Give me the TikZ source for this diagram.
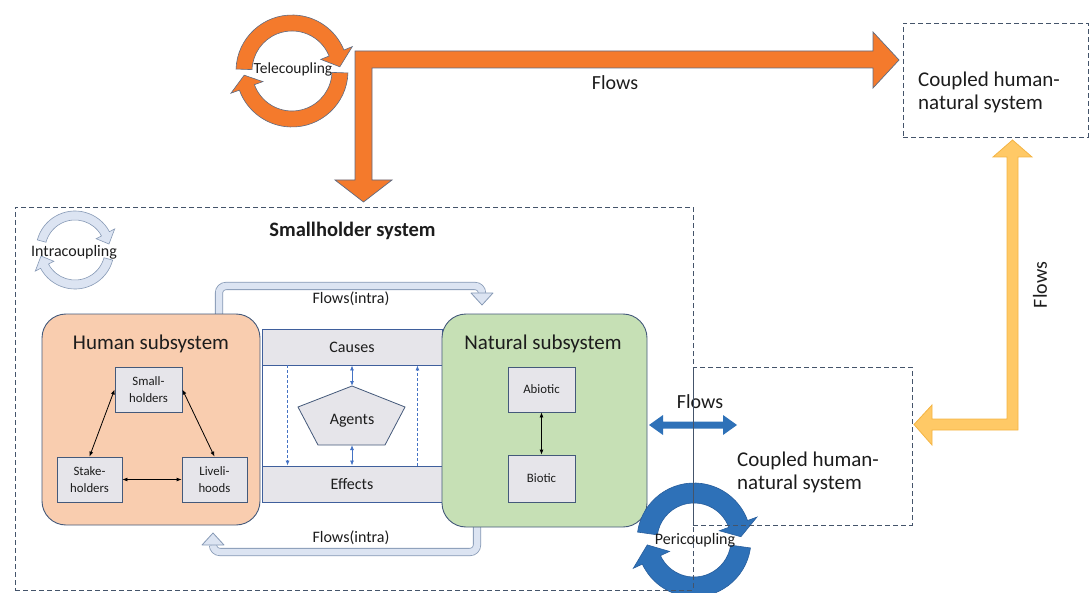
\documentclass[tikz,border=0pt]{standalone}
\usepackage{fontspec}
\setmainfont{Carlito}
\usetikzlibrary{calc,arrows.meta}
\definecolor{orangeF}{HTML}{F47A2C}
\definecolor{orangeD}{HTML}{5F6B82}
\definecolor{yellowF}{HTML}{FFC966}
\definecolor{yellowD}{HTML}{F4B443}
\definecolor{blueF}{HTML}{2E71B8}
\definecolor{blueD}{HTML}{285E9C}
\definecolor{intraF}{HTML}{DCE4F2}
\definecolor{intraD}{HTML}{8699B5}
\definecolor{humanF}{HTML}{F9CDAF}
\definecolor{natF}{HTML}{C6E0B5}
\definecolor{edgeD}{HTML}{44597A}
\definecolor{edgeB}{HTML}{3F5F9C}
\definecolor{boxG}{HTML}{E6E5EA}
\definecolor{dashC}{HTML}{44546A}
\definecolor{midBlue}{HTML}{4472C4}
\definecolor{txt}{HTML}{1C1C1C}
\newcommand{\circarr}[9]{%
 \pgfmathsetmacro\caA{-(#5)}\pgfmathsetmacro\caB{-(#6)}\pgfmathsetmacro\caT{-(#7)}%
 \pgfmathsetmacro\caMid{((#3)+(#4))/2}\pgfmathsetmacro\caHi{(#4)+(#8)}\pgfmathsetmacro\caLo{(#3)-(#8)}%
 \path[#9] (#1,#2) ++(\caA:#4) arc[start angle=\caA, end angle=\caB, radius=#4]
   -- ($(#1,#2)+(\caB:\caHi)$) -- ($(#1,#2)+(\caT:\caMid)$) -- ($(#1,#2)+(\caB:\caLo)$)
   -- ($(#1,#2)+(\caB:#3)$) arc[start angle=\caB, end angle=\caA, radius=#3] -- cycle;}
\begin{document}
\begin{tikzpicture}[x=1pt,y=-1pt,
  every node/.style={text=txt},
  fbig/.style={font=\fontsize{21}{23}\selectfont},
  fflow/.style={font=\fontsize{20}{23}\selectfont},
  fmid/.style={font=\fontsize{16}{19}\selectfont},
  fsmall/.style={font=\fontsize{12.8}{16.5}\selectfont},
  subbox/.style={draw=edgeD, fill=boxG, line width=0.8pt, inner sep=0pt, align=center, fsmall},
  sysbox/.style={draw=edgeD, line width=0.9pt, rounded corners=24pt, inner sep=0pt},
  band/.style={draw=edgeB, fill=boxG, line width=0.9pt, inner sep=0pt, minimum width=180, minimum height=36, fmid},
  dbox/.style={draw=dashC, dash pattern=on 5pt off 3pt, line width=0.9pt, inner sep=0pt},
  blk/.style={{Latex[length=5pt,width=4pt]}-{Latex[length=5pt,width=4pt]}, line width=0.8pt, draw=black},
  bdbl/.style={{Latex[length=5pt,width=4pt]}-{Latex[length=5pt,width=4pt]}, line width=0.8pt, draw=midBlue},
  bdash/.style={-{Latex[length=5pt,width=4pt]}, line width=0.8pt, draw=midBlue, dash pattern=on 3pt off 2pt},
  intraflow/.style={draw=intraD, line width=0.8pt, double=intraF, double distance=6.5pt, rounded corners=7pt},
  intrahead/.style={draw=intraD, fill=intraF, line width=0.8pt, line join=round},
  ringO/.style={fill=orangeF, draw=orangeD, line width=0.6pt},
  ringI/.style={fill=intraF, draw=intraD, line width=0.6pt},
  ringB/.style={fill=blueF, draw=blueD, line width=0.6pt},
]
\useasboundingbox (0,0) rectangle (1091,593);

% ---- intra flows
\coordinate (fiA) at (219,318); \coordinate (fiB) at (219,286);
\coordinate (fiC) at (482,286); \coordinate (fiD) at (482,294);
\draw[intraflow] (fiA) -- (fiB) -- (fiC) -- (fiD);
\draw[intrahead] (471,293) -- (493,293) -- (482,305) -- cycle;
\node[fmid] (fi1) at (351,299) {Flows(intra)};
\coordinate (fbA) at (477,522); \coordinate (fbB) at (477,552);
\coordinate (fbC) at (213,552); \coordinate (fbD) at (213,545);
\draw[intraflow] (fbA) -- (fbB) -- (fbC) -- (fbD);
\draw[intrahead] (202,545) -- (224,545) -- (213,533) -- cycle;
\node[fmid] (fi2) at (351,538) {Flows(intra)};

% ---- middle frame
\node[draw=edgeB, line width=0.9pt, minimum width=180, minimum height=173, inner sep=0pt] (frame) at (352,415.5) {};
\node[band] (causes) at (352,347) {Causes};
\node[band] (effects) at (352,484) {Effects};
\coordinate (agT) at (352,386); \coordinate (agL) at (298,407); \coordinate (agR) at (405,407);
\coordinate (agBL) at (318,445); \coordinate (agBR) at (385,445); \coordinate (agB) at (352,445);
\draw[draw=edgeD, fill=boxG, line width=0.8pt] (agT) -- (agR) -- (agBR) -- (agBL) -- (agL) -- cycle;
\node[fmid] (agents) at (352,421) {Agents};
\draw[bdbl] (causes.south) -- (agT);
\draw[bdbl] (agB) -- (effects.north);
\draw[bdash] ($(causes.south west)+(26,0)$) -- ($(effects.north west)+(26,0)$);
\draw[bdash] ($(effects.north east)+(-25,0)$) -- ($(causes.south east)+(-25,0)$);

% ---- human subsystem
\node[sysbox, fill=humanF, minimum width=218, minimum height=211] (human) at (151,419.5) {};
\node[fbig] (humanT) at (151,344) {Human subsystem};
\node[subbox, minimum width=67, minimum height=45] (small) at (148.5,389.5) {Small-\\holders};
\node[subbox, minimum width=65, minimum height=45] (stake) at (89.5,479.5) {Stake-\\holders};
\node[subbox, minimum width=65, minimum height=45] (live) at (214.5,479.5) {Liveli-\\hoods};
\draw[blk] (stake.north) -- (small.west);
\draw[blk] (live.north) -- (small.east);
\draw[blk] (stake.east) -- (live.west);

% ---- natural subsystem
\node[sysbox, fill=natF, minimum width=205, minimum height=213] (nat) at (544.5,420.5) {};
\node[fbig] (natT) at (543,344) {Natural subsystem};
\node[subbox, minimum width=67, minimum height=45] (abio) at (541.5,389.5) {Abiotic};
\node[subbox, minimum width=67, minimum height=47] (bio) at (541.5,478.5) {Biotic};
\draw[blk] (abio.south) -- (bio.north);

% ---- circular arrows
\circarr{292}{71}{40}{56}{178}{22}{5}{9}{ringO}
\circarr{292}{71}{40}{56}{-2}{-160}{-175}{9}{ringO}
\node[font=\fontsize{15.5}{18}\selectfont] (tele) at (293,69) {Telecoupling};
\circarr{75}{250}{30}{39}{165}{28}{10}{6}{ringI}
\circarr{75}{250}{30}{39}{-15}{-152}{-170}{6}{ringI}
\node[fmid] (intra) at (74,252) {Intracoupling};
\circarr{694}{540}{37}{57}{172}{20}{4}{10}{ringB}
\circarr{694}{540}{37}{57}{-8}{-155}{-174}{10}{ringB}

% ---- orange telecoupling flow
\draw[fill=orangeF, draw=orangeD, line width=0.7pt]
  (355,51) -- (873,51) -- (873,32) -- (899,60) -- (873,88) -- (873,68) -- (372,68)
  -- (372,180) -- (392,180) -- (363.5,202) -- (335,180) -- (355,180) -- cycle;
\node[fflow] (flowT) at (615,83) {Flows};

% ---- yellow flow
\draw[fill=yellowF, draw=yellowD, line width=0.8pt]
  (1007,157) -- (993,157) -- (1012.5,140) -- (1032,157) -- (1018,157) -- (1018,430)
  -- (932,430) -- (932,445) -- (914,424.5) -- (932,405) -- (932,419) -- (1007,419) -- cycle;
\node[fflow, rotate=90] (flowY) at (1040,285) {Flows};

% ---- blue pericoupling flow
\fill[blueF] (649,425) -- (663,415) -- (663,421.5) -- (723,421.5) -- (723,415) -- (737,425)
  -- (723,435) -- (723,428.5) -- (663,428.5) -- (663,435) -- cycle;
\node[fflow] (flowB) at (700,402) {Flows};

% ---- dashed system boxes
\node[dbox, minimum width=678, minimum height=383] (shs) at (354,398.5) {};
\node[dbox, minimum width=219, minimum height=158] (chnB) at (802.5,446) {};
\node[dbox, minimum width=185, minimum height=114] (chnT) at (995.5,80) {};
\node[font=\bfseries\fontsize{20.5}{24}\selectfont] (shsT) at (352.5,231) {Smallholder system};
\node[fbig, align=left, anchor=west, inner sep=0pt] (chnTt) at (918,92) {Coupled human-\\natural system};
\node[fbig, align=left, anchor=west, inner sep=0pt] (chnBt) at (737,472) {Coupled human-\\natural system};
\node[fmid] (peri) at (695,540) {Pericoupling};
\end{tikzpicture}
\end{document}
